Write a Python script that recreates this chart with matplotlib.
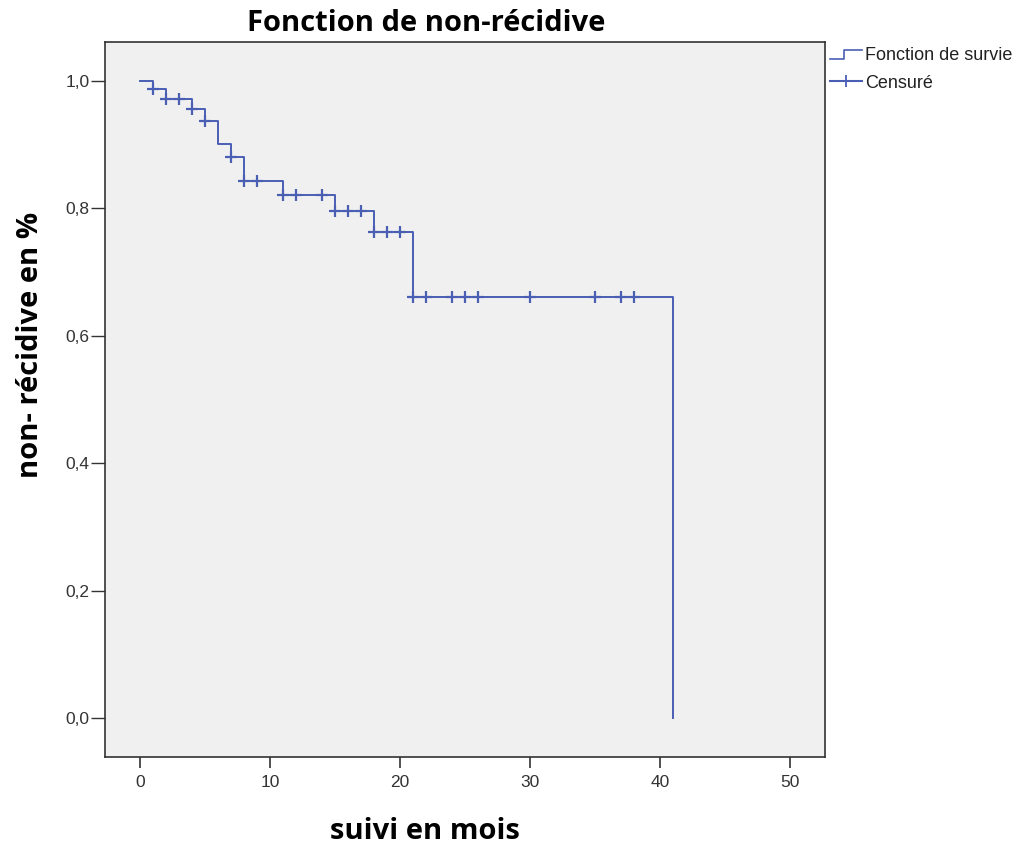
import matplotlib.pyplot as plt
from matplotlib.lines import Line2D
from matplotlib.legend_handler import HandlerBase

# Kaplan-Meier steps
step_times = [0, 1, 2, 4, 5, 6, 7, 8, 11, 15, 18, 21, 41]
step_surv = [1.0, 0.987, 0.972, 0.956, 0.937, 0.90, 0.881, 0.842, 0.821, 0.795, 0.762, 0.66, 0.0]

# censored times
censor_times = [1, 2, 3, 4, 5, 7, 8, 9, 11, 12, 14, 15, 16, 17, 18, 19, 20,
                21, 22, 24, 25, 26, 30, 35, 37, 38]

x_ticks = [0, 10, 20, 30, 40, 50]
y_ticks = [0.0, 0.2, 0.4, 0.6, 0.8, 1.0]

blue = '#4a5fb4'


def surv_at(t):
    s = step_surv[0]
    for tt, v in zip(step_times, step_surv):
        if tt <= t:
            s = v
    return s


class StepHandler(HandlerBase):
    def create_artists(self, legend, orig_handle, xd, yd, w, h, fontsize, trans):
        xs = [xd, xd + w * 0.45, xd + w * 0.45, xd + w]
        ys = [yd + h * 0.1, yd + h * 0.1, yd + h * 0.8, yd + h * 0.8]
        ln = Line2D(xs, ys, color=blue, lw=1.2, transform=trans)
        return [ln]


fig = plt.figure(figsize=(10.3, 8.48), dpi=100)
ax = fig.add_axes([0.102, 0.107, 0.699, 0.843])
ax.set_facecolor('#f0f0f0')

ax.step(step_times, step_surv, where='post', color=blue, lw=1.4)
ax.plot(censor_times, [surv_at(t) for t in censor_times], ls='none',
        marker='+', ms=8, mew=1.6, color=blue)

ax.set_xlim(-2.7, 52.7)
ax.set_ylim(-0.061, 1.06)
ax.set_xticks(x_ticks)
ax.set_yticks(y_ticks)
ax.set_xticklabels([str(v) for v in x_ticks], fontfamily='Liberation Sans',
                   fontsize=12.5, color='#333333')
ax.set_yticklabels([f'{v:.1f}'.replace('.', ',') for v in y_ticks],
                   fontfamily='Liberation Sans', fontsize=12.5, color='#333333')
ax.tick_params(axis='y', direction='out', length=10, width=1, color='#333333', pad=1)
ax.tick_params(axis='x', direction='out', length=8, width=1.2, color='#333333', pad=5)
for sp in ax.spines.values():
    sp.set_color('#333333')
    sp.set_linewidth(1.2)

h1 = Line2D([], [], color=blue)
h2 = Line2D([], [], color=blue, marker='+', ms=9, mew=1.3)
ax.legend([h1, h2], ['Fonction de survie', 'Censuré'],
          handler_map={h1: StepHandler()},
          loc='upper left', bbox_to_anchor=(1.0, 1.0), frameon=False,
          prop={'family': 'Liberation Sans', 'size': 13}, labelcolor='#222222',
          handlelength=1.8, handletextpad=0.15, labelspacing=0.6,
          borderaxespad=0.25, borderpad=0.0)

fig.text(0.414, 0.972, 'Fonction de non-récidive', ha='center', va='center',
         fontsize=21, fontweight='bold', fontfamily='Open Sans')
fig.text(0.413, 0.019, 'suivi en mois', ha='center', va='center',
         fontsize=21, fontweight='bold', fontfamily='Open Sans')
fig.text(0.03, 0.593, 'non- récidive en %', ha='center', va='center',
         rotation=90, fontsize=21, fontweight='bold', fontfamily='Open Sans')

plt.savefig('out.png', dpi=100)
